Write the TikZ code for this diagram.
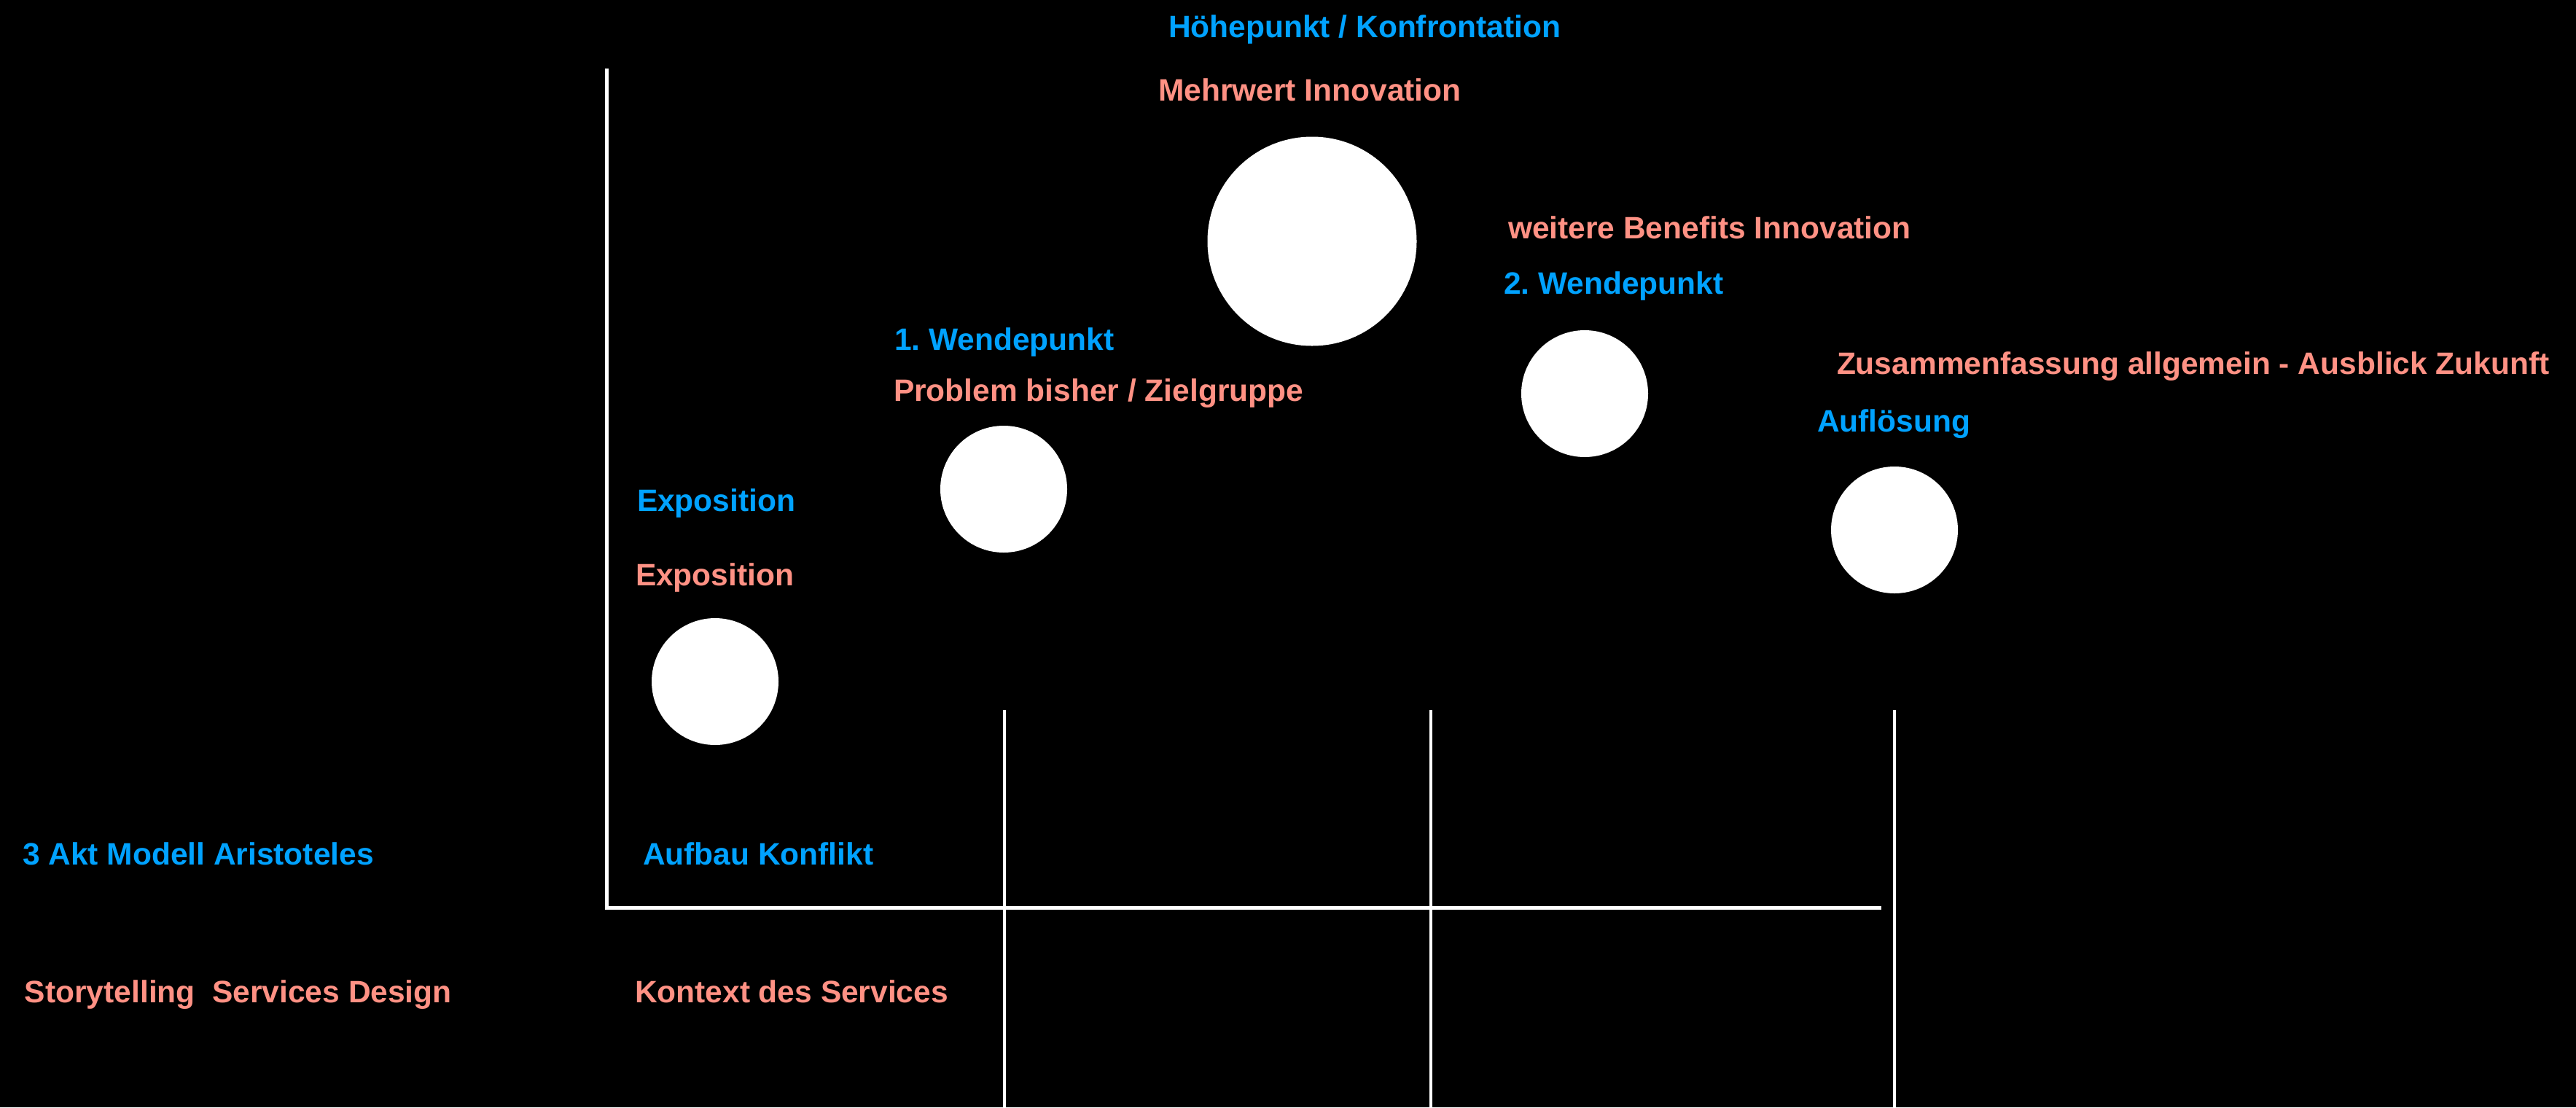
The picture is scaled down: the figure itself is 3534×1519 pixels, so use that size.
\documentclass[tikz,border=0pt]{standalone}
\usepackage{fontspec}
\setmainfont{Liberation Sans}
\frenchspacing
\begin{document}
\definecolor{actblue}{RGB}{0,162,255}
\definecolor{storysalmon}{RGB}{255,145,132}
\begin{tikzpicture}[x=1pt,y=-1pt,
  lbl/.style={anchor=base west,inner sep=0pt,outer sep=0pt,
    font=\fontsize{42.5}{50}\bfseries\selectfont},
  akt/.style={lbl,text=actblue},
  story/.style={lbl,text=storysalmon},
  dot/.style={circle,fill=white,draw=none,inner sep=0pt,minimum size=#1},
  axisline/.style={draw=white,line width=5pt},
  marker/.style={draw=white,line width=4.5pt}]
% canvas
\fill[black] (0,0) rectangle (3534,1519);
\useasboundingbox (0,0) rectangle (3534,1519);

% axes
\coordinate (ytop) at (832,94);
\coordinate (origin) at (832,1245);
\coordinate (xend) at (2581,1245);
\draw[axisline,line join=miter] (ytop) -- (origin) -- (xend);

% act boundaries
\coordinate (m1top) at (1378,974);  \coordinate (m1bot) at (1378,1519);
\coordinate (m2top) at (1963,974);  \coordinate (m2bot) at (1963,1519);
\coordinate (m3top) at (2599,974);  \coordinate (m3bot) at (2599,1519);
\draw[marker] (m1top) -- (m1bot);
\draw[marker] (m2top) -- (m2bot);
\draw[marker] (m3top) -- (m3bot);

% story points
\node[dot=174pt] (expo) at (981,935) {};
\node[dot=174pt] (wende1) at (1377,671) {};
\node[dot=287pt] (hoehe) at (1800,331) {};
\node[dot=174pt] (wende2) at (2174,540) {};
\node[dot=174pt] (aufl) at (2599,727) {};

% labels
\node[akt] (tHoehe) at (1603,51) {Höhepunkt / Konfrontation};
\node[story] (tMehr) at (1589,138) {Mehrwert Innovation};
\node[story] (tBenefit) at (2069,327) {weitere Benefits Innovation};
\node[akt] (tW2) at (2063,403) {2. Wendepunkt};
\node[akt] (tW1) at (1227,480) {1. Wendepunkt};
\node[story] (tProblem) at (1226,550) {Problem bisher / Zielgruppe};
\node[story] (tZus) at (2520,513) {Zusammenfassung allgemein - Ausblick Zukunft};
\node[akt] (tAufl) at (2493,592) {Auflösung};
\node[akt] (tExpoA) at (874,701) {Exposition};
\node[story] (tExpoS) at (872,803) {Exposition};
\node[akt] (tModel) at (31,1186) {3 Akt Modell Aristoteles};
\node[akt] (tAufbau) at (882,1186) {Aufbau Konflikt};
\node[story] (tStory) at (34,1375) {Storytelling\ \ Services Design};
\node[story] (tKontext) at (871,1375) {Kontext des Services};
\end{tikzpicture}
\end{document}
